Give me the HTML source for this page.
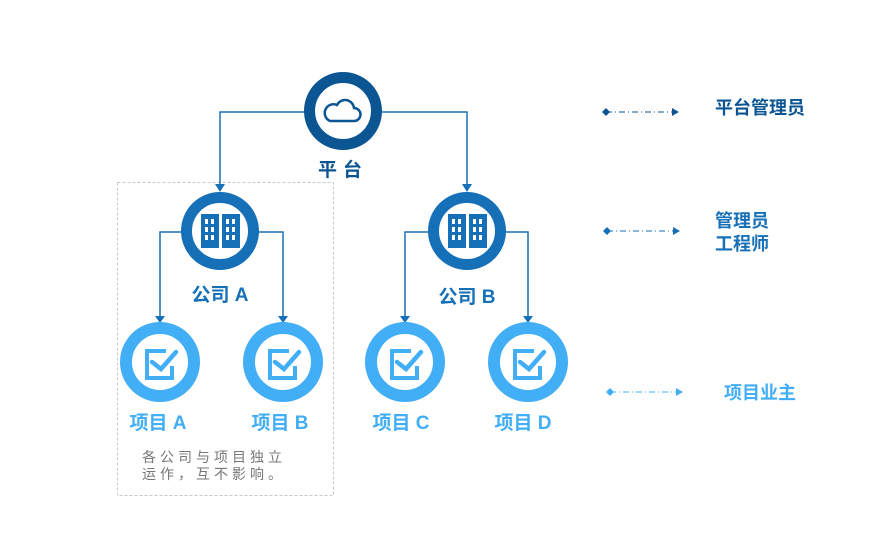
<!DOCTYPE html>
<html><head><meta charset="utf-8"><style>
body{margin:0;width:890px;height:550px;background:#fff;overflow:hidden}
svg text{font-family:"Liberation Sans","Noto Sans CJK SC",sans-serif;font-weight:bold}
</style></head><body>
<svg width="890" height="550" viewBox="0 0 890 550">
<rect x="117.5" y="182.5" width="216" height="313" fill="none" stroke="#c8c8c8" stroke-dasharray="3,2"/>
<g fill="none" stroke="#1670b8" stroke-width="1.5">
<path d="M305 112 H220 V185"/><path d="M382 112 H467 V185"/>
<path d="M182 232 H160 V317"/><path d="M258 232 H283 V317"/>
<path d="M429 232 H405 V317"/><path d="M505 232 H528 V317"/>
</g>
<g fill="#1670b8">
<path d="M215 184 L225 184 L220 192z"/><path d="M462 184 L472 184 L467 192z"/>
<path d="M155 316 L165 316 L160 323z"/><path d="M278 316 L288 316 L283 323z"/>
<path d="M400 316 L410 316 L405 323z"/><path d="M523 316 L533 316 L528 323z"/>
</g>
<circle cx="343" cy="111" r="33.5" fill="#fff" stroke="#0b5592" stroke-width="11"/>
<path d="M330 121 h24 a6.5 6.5 0 0 0 0-13 a9 9 0 0 0-17-3 a7 7 0 0 0-7 16z" fill="none" stroke="#0b5592" stroke-width="2.5"/>
<text x="343" y="176" text-anchor="middle" font-size="19" fill="#0b5592" letter-spacing="6">平台</text>
<g id="co">
<circle cx="220" cy="231" r="33.5" fill="#fff" stroke="#1670b8" stroke-width="11"/>
<g fill="#1670b8"><rect x="201" y="214" width="18" height="34"/><rect x="222" y="214" width="18" height="34"/></g>
<g fill="#fff"><rect x="205" y="219" width="3" height="5"/><rect x="211" y="219" width="3" height="5"/><rect x="205" y="227" width="3" height="5"/><rect x="211" y="227" width="3" height="5"/><rect x="205" y="235" width="3" height="5"/><rect x="211" y="235" width="3" height="5"/>
<rect x="226" y="219" width="3" height="5"/><rect x="232" y="219" width="3" height="5"/><rect x="226" y="227" width="3" height="5"/><rect x="232" y="227" width="3" height="5"/><rect x="226" y="235" width="3" height="5"/><rect x="232" y="235" width="3" height="5"/></g>
</g>
<use href="#co" x="247"/>
<text x="220" y="301" text-anchor="middle" font-size="19" fill="#1670b8">公司 A</text>
<text x="467" y="303" text-anchor="middle" font-size="19" fill="#1670b8">公司 B</text>
<g id="pj">
<circle cx="160" cy="362" r="34" fill="#fff" stroke="#42aef5" stroke-width="12"/>
<path d="M166 351 H147 V378 H172 V366" fill="none" stroke="#42aef5" stroke-width="4"/>
<path d="M152 362 L161 369 L176 352" fill="none" stroke="#42aef5" stroke-width="4.5" stroke-linecap="round"/>
</g>
<use href="#pj" x="123"/><use href="#pj" x="245"/><use href="#pj" x="368"/>
<g font-size="19" fill="#42aef5" text-anchor="middle">
<text x="158" y="429">项目 A</text><text x="280" y="429">项目 B</text><text x="401" y="429">项目 C</text><text x="523" y="429">项目 D</text>
</g>
<text x="142" y="462" font-size="14" fill="#777" style="font-weight:normal" letter-spacing="4">各公司与项目独立</text>
<text x="142" y="479" font-size="14" fill="#777" style="font-weight:normal" letter-spacing="4">运作，互不影响。</text>
<g stroke-width="1" stroke-dasharray="6,3,1,3" fill="none">
<path d="M606 112 H672" stroke="#0b5592"/><path d="M607 231 H673" stroke="#1670b8"/><path d="M610 392 H676" stroke="#42aef5"/>
</g>
<path d="M602 112 l4-4 4 4-4 4z M672 108 l7 4-7 4z" fill="#0b5592"/>
<path d="M603 231 l4-4 4 4-4 4z M673 227 l7 4-7 4z" fill="#1670b8"/>
<path d="M606 392 l4-4 4 4-4 4z M676 388 l7 4-7 4z" fill="#42aef5"/>
<text x="715" y="114" font-size="18" fill="#0b5592">平台管理员</text>
<text x="715" y="227" font-size="18" fill="#1670b8">管理员</text>
<text x="715" y="250" font-size="18" fill="#1670b8">工程师</text>
<text x="724" y="399" font-size="18" fill="#42aef5">项目业主</text>
</svg>
</body></html>
